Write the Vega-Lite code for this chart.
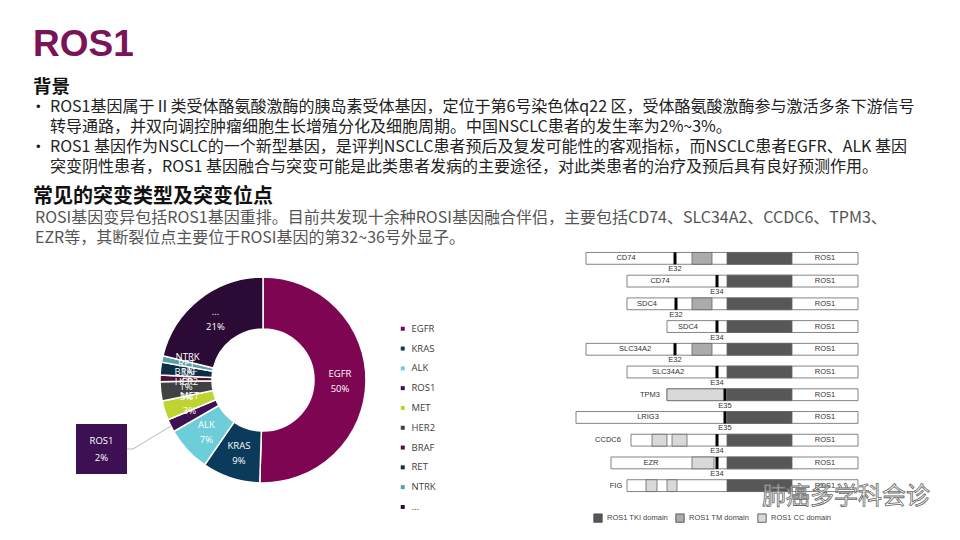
{
  "$schema": "https://vega.github.io/schema/vega-lite/v6.json",
  "background": "white",
  "padding": {"left": 33, "top": 26, "right": 5, "bottom": 0},
  "title": {"text": "ROS1", "anchor": "start", "fontSize": 37, "font": "Liberation Sans", "fontWeight": "bold", "color": "#7A1357", "offset": 14},
  "config": {"view": {"stroke": null}},
  "datasets": {
    "bg": [
      {"line": 0, "kind": "head", "text": "背景"},
      {"line": 1, "kind": "bullet", "text": "ROS1基因属于Ⅱ类受体酪氨酸激酶的胰岛素受体基因，定位于第6号染色体q22 区，受体酪氨酸激酶参与激活多条下游信号"},
      {"line": 2, "kind": "cont", "text": "转导通路，并双向调控肿瘤细胞生长增殖分化及细胞周期。中国NSCLC患者的发生率为2%~3%。"},
      {"line": 3, "kind": "bullet", "text": "ROS1 基因作为NSCLC的一个新型基因，是评判NSCLC患者预后及复发可能性的客观指标，而NSCLC患者EGFR、ALK 基因"},
      {"line": 4, "kind": "cont", "text": "突变阴性患者，ROS1 基因融合与突变可能是此类患者发病的主要途径，对此类患者的治疗及预后具有良好预测作用。"}
    ],
    "sec": [
      {"line": 0, "kind": "head", "text": "常见的突变类型及突变位点"},
      {"line": 1, "kind": "body", "text": "ROSI基因变异包括ROS1基因重排。目前共发现十余种ROSI基因融合伴侣，主要包括CD74、SLC34A2、CCDC6、TPM3、"},
      {"line": 2, "kind": "body", "text": "EZR等，其断裂位点主要位于ROSI基因的第32~36号外显子。"}
    ],
    "mut": [
      {"idx": 1, "gene": "EGFR", "share": 0.50},
      {"idx": 2, "gene": "KRAS", "share": 0.09},
      {"idx": 3, "gene": "ALK", "share": 0.07},
      {"idx": 4, "gene": "ROS1", "share": 0.02},
      {"idx": 5, "gene": "MET", "share": 0.03},
      {"idx": 6, "gene": "HER2", "share": 0.03},
      {"idx": 7, "gene": "BRAF", "share": 0.01},
      {"idx": 8, "gene": "RET", "share": 0.02},
      {"idx": 9, "gene": "NTRK", "share": 0.01},
      {"idx": 10, "gene": "...", "share": 0.21}
    ],
    "fusions": [
      {"row": 1, "partner": "CD74", "exon": "E32", "start": 16, "bp": 105, "end": 288, "labelAt": 56},
      {"row": 2, "partner": "CD74", "exon": "E34", "start": 57, "bp": 147, "end": 288, "labelAt": 90},
      {"row": 3, "partner": "SDC4", "exon": "E32", "start": 57, "bp": 106, "end": 288, "labelAt": 77},
      {"row": 4, "partner": "SDC4", "exon": "E34", "start": 97, "bp": 147, "end": 288, "labelAt": 118},
      {"row": 5, "partner": "SLC34A2", "exon": "E32", "start": 16, "bp": 105, "end": 288, "labelAt": 65},
      {"row": 6, "partner": "SLC34A2", "exon": "E34", "start": 57, "bp": 147, "end": 288, "labelAt": 98},
      {"row": 7, "partner": "TPM3", "exon": "E35", "start": 97, "bp": 155, "end": 288, "labelAt": 80},
      {"row": 8, "partner": "LRIG3", "exon": "E35", "start": 6, "bp": 155, "end": 288, "labelAt": 78},
      {"row": 9, "partner": "CCDC6", "exon": "E34", "start": 61, "bp": 147, "end": 288, "labelAt": 38},
      {"row": 10, "partner": "EZR", "exon": "E34", "start": 41, "bp": 147, "end": 288, "labelAt": 81},
      {"row": 11, "partner": "FIG", "exon": "", "start": 57, "bp": 155, "end": 288, "labelAt": 46}
    ],
    "domains": [
      {"row": 1, "domain": "ROS1 TM domain", "from": 122, "to": 142},
      {"row": 3, "domain": "ROS1 TM domain", "from": 122, "to": 142},
      {"row": 5, "domain": "ROS1 TM domain", "from": 122, "to": 142},
      {"row": 7, "domain": "ROS1 CC domain", "from": 97, "to": 155},
      {"row": 9, "domain": "ROS1 CC domain", "from": 82, "to": 97},
      {"row": 9, "domain": "ROS1 CC domain", "from": 102, "to": 117},
      {"row": 10, "domain": "ROS1 CC domain", "from": 122, "to": 144},
      {"row": 11, "domain": "ROS1 CC domain", "from": 76, "to": 87},
      {"row": 11, "domain": "ROS1 CC domain", "from": 97, "to": 107},
      {"row": 1, "domain": "ROS1 TKI domain", "from": 157, "to": 222},
      {"row": 2, "domain": "ROS1 TKI domain", "from": 157, "to": 222},
      {"row": 3, "domain": "ROS1 TKI domain", "from": 157, "to": 222},
      {"row": 4, "domain": "ROS1 TKI domain", "from": 157, "to": 222},
      {"row": 5, "domain": "ROS1 TKI domain", "from": 157, "to": 222},
      {"row": 6, "domain": "ROS1 TKI domain", "from": 157, "to": 222},
      {"row": 7, "domain": "ROS1 TKI domain", "from": 157, "to": 222},
      {"row": 8, "domain": "ROS1 TKI domain", "from": 157, "to": 222},
      {"row": 9, "domain": "ROS1 TKI domain", "from": 157, "to": 222},
      {"row": 10, "domain": "ROS1 TKI domain", "from": 157, "to": 222},
      {"row": 11, "domain": "ROS1 TKI domain", "from": 157, "to": 222}
    ]
  },
  "bounds": "flush",
  "spacing": 9,
  "vconcat": [
    {
      "width": 900,
      "height": 101,
      "data": {"name": "bg"},
      "encoding": {"y": {"field": "line", "type": "ordinal", "scale": {"type": "point", "padding": 0, "range": [0, 80]}, "axis": null}},
      "layer": [
        {"transform": [{"filter": "datum.kind === 'head'"}], "mark": {"type": "text", "x": 0, "align": "left", "baseline": "middle", "fontSize": 18.5, "fontWeight": "bold", "font": "Noto Sans CJK SC", "fill": "#111111"}, "encoding": {"text": {"field": "text"}}},
        {"transform": [{"filter": "datum.kind !== 'head'"}], "mark": {"type": "text", "x": 0, "dx": 17, "align": "left", "baseline": "middle", "fontSize": 16, "font": "Noto Sans CJK SC", "fill": "#222222"}, "encoding": {"text": {"field": "text"}}},
        {"transform": [{"filter": "datum.kind === 'bullet'"}], "mark": {"type": "text", "x": 0, "dx": 3, "align": "left", "baseline": "middle", "fontSize": 13, "font": "Liberation Sans", "fill": "#222222", "text": "•"}, "encoding": {}}
      ]
    },
    {
      "width": 900,
      "height": 41,
      "data": {"name": "sec"},
      "encoding": {"y": {"field": "line", "type": "ordinal", "scale": {"type": "point", "padding": 0}, "axis": null}},
      "layer": [
        {"transform": [{"filter": "datum.kind === 'head'"}], "mark": {"type": "text", "x": 0, "align": "left", "baseline": "middle", "fontSize": 20, "fontWeight": "bold", "font": "Noto Sans CJK SC", "fill": "#111111"}, "encoding": {"text": {"field": "text"}}},
        {"transform": [{"filter": "datum.kind !== 'head'"}], "mark": {"type": "text", "x": 0, "dx": 2, "align": "left", "baseline": "middle", "fontSize": 16, "font": "Noto Sans CJK SC", "fill": "#555555"}, "encoding": {"text": {"field": "text"}}}
      ]
    },
    {
      "bounds": "flush",
      "spacing": 0,
      "resolve": {"scale": {"color": "independent", "x": "independent", "y": "independent"}, "legend": {"color": "independent"}},
      "hconcat": [
        {
          "width": 537,
          "height": 280,
          "data": {"name": "mut"},
          "encoding": {
            "x": {"datum": 0, "type": "quantitative", "scale": {"domain": [-230, 307], "nice": false, "zero": false}, "axis": null},
            "y": {"datum": 0, "type": "quantitative", "scale": {"domain": [-147, 133], "nice": false, "zero": false}, "axis": null}
          },
          "layer": [
            {
              "mark": {"type": "arc", "innerRadius": 51, "outerRadius": 103, "stroke": "white", "strokeWidth": 1.5},
              "encoding": {
                "theta": {"field": "share", "type": "quantitative", "stack": true},
                "order": {"field": "idx", "type": "quantitative"},
                "color": {
                  "field": "gene", "type": "nominal",
                  "scale": {"domain": ["EGFR", "KRAS", "ALK", "ROS1", "MET", "HER2", "BRAF", "RET", "NTRK", "..."],
                            "range": ["#7D0552", "#0C3A5B", "#6DCDD9", "#3C1053", "#BFD430", "#404142", "#520F35", "#0F2D45", "#5B9FA6", "#2B0B35"]},
                  "legend": {"orient": "none", "legendX": 365, "legendY": 77, "title": null, "symbolType": "square", "symbolSize": 16, "symbolStrokeWidth": 0, "labelFontSize": 9.5, "labelFont": "Open Sans", "labelColor": "#404040", "rowPadding": 8.8, "labelOffset": 4}
                }
              }
            },
            {
              "mark": {"type": "text", "radius": 77, "dy": -7, "fill": "white", "fontSize": 9.5, "font": "Open Sans"},
              "encoding": {
                "theta": {"field": "share", "type": "quantitative", "stack": true},
                "order": {"field": "idx", "type": "quantitative"},
                "detail": {"field": "gene", "type": "nominal"},
                "text": {"condition": {"test": "datum.gene === 'ROS1'", "value": ""}, "field": "gene", "type": "nominal"}
              }
            },
            {
              "mark": {"type": "text", "radius": 77, "dy": 8, "fill": "white", "fontSize": 9.5, "font": "Open Sans"},
              "encoding": {
                "theta": {"field": "share", "type": "quantitative", "stack": true},
                "order": {"field": "idx", "type": "quantitative"},
                "detail": {"field": "gene", "type": "nominal"},
                "text": {"condition": {"test": "datum.gene === 'ROS1'", "value": ""}, "field": "share", "type": "quantitative", "format": ".0%"}
              }
            },
            {
              "transform": [{"filter": "datum.gene === 'ROS1'"}],
              "mark": {"type": "rect", "fill": "#3C1053"},
              "encoding": {"x": {"datum": -187}, "x2": {"datum": -136}, "y": {"datum": -94}, "y2": {"datum": -44}}
            },
            {
              "transform": [{"filter": "datum.gene === 'ROS1'"}],
              "mark": {"type": "rule", "stroke": "#A6A6A6", "strokeWidth": 0.8},
              "encoding": {"x": {"datum": -136}, "y": {"datum": -69}, "x2": {"datum": -130}, "y2": {"datum": -69}}
            },
            {
              "transform": [{"filter": "datum.gene === 'ROS1'"}],
              "mark": {"type": "rule", "stroke": "#A6A6A6", "strokeWidth": 0.8},
              "encoding": {"x": {"datum": -130}, "y": {"datum": -69}, "x2": {"datum": -92}, "y2": {"datum": -46}}
            },
            {
              "transform": [{"filter": "datum.gene === 'ROS1'"}],
              "mark": {"type": "text", "fill": "white", "fontSize": 9.5, "font": "Open Sans"},
              "encoding": {"x": {"datum": -161.5}, "y": {"datum": -61}, "text": {"field": "gene"}}
            },
            {
              "transform": [{"filter": "datum.gene === 'ROS1'"}],
              "mark": {"type": "text", "fill": "white", "fontSize": 9.5, "font": "Open Sans"},
              "encoding": {"x": {"datum": -161.5}, "y": {"datum": -78}, "text": {"field": "share", "type": "quantitative", "format": ".0%"}}
            }
          ]
        },
        {
          "width": 300,
          "height": 250,
          "layer": [
            {
              "data": {"name": "fusions"},
              "mark": {"type": "rect", "fill": "white", "stroke": "#666666", "strokeWidth": 0.8},
              "encoding": {
                "x": {"field": "start", "type": "quantitative", "scale": {"domain": [0, 300], "nice": false, "zero": false}, "axis": null},
                "x2": {"field": "end"},
                "y": {"field": "row", "type": "ordinal", "scale": {"paddingInner": 0.48, "paddingOuter": 0.24}, "axis": null}
              }
            },
            {
              "data": {"name": "domains"},
              "mark": {"type": "rect", "stroke": "#666666", "strokeWidth": 0.8},
              "encoding": {
                "x": {"field": "from", "type": "quantitative"},
                "x2": {"field": "to"},
                "y": {"field": "row", "type": "ordinal"},
                "color": {
                  "field": "domain", "type": "nominal",
                  "scale": {"domain": ["ROS1 TKI domain", "ROS1 TM domain", "ROS1 CC domain"], "range": ["#575757", "#ABABAB", "#D9D9D9"]},
                  "legend": {"orient": "none", "legendX": 23, "legendY": 266, "direction": "horizontal", "columns": 3, "title": null, "symbolType": "square", "symbolSize": 70, "symbolStrokeColor": "#444444", "symbolStrokeWidth": 0.8, "labelFontSize": 7.5, "labelFont": "Liberation Sans", "labelColor": "#444444", "columnPadding": 6, "labelOffset": 4}
                }
              }
            },
            {
              "data": {"name": "fusions"},
              "transform": [{"filter": "datum.exon !== ''"}],
              "mark": {"type": "tick", "color": "#000000", "thickness": 3, "size": 12, "opacity": 1},
              "encoding": {"x": {"field": "bp", "type": "quantitative"}, "y": {"field": "row", "type": "ordinal"}}
            },
            {
              "data": {"name": "fusions"},
              "mark": {"type": "text", "fontSize": 7.5, "font": "Liberation Sans", "fill": "#333333"},
              "encoding": {"x": {"field": "labelAt", "type": "quantitative"}, "y": {"field": "row", "type": "ordinal"}, "text": {"field": "partner"}}
            },
            {
              "data": {"name": "fusions"},
              "mark": {"type": "text", "fontSize": 7.5, "font": "Liberation Sans", "fill": "#333333", "dy": 11},
              "encoding": {"x": {"field": "bp", "type": "quantitative"}, "y": {"field": "row", "type": "ordinal"}, "text": {"field": "exon"}}
            },
            {
              "data": {"name": "fusions"},
              "mark": {"type": "text", "fontSize": 7.5, "font": "Liberation Sans", "fill": "#333333"},
              "encoding": {"x": {"datum": 255}, "y": {"field": "row", "type": "ordinal"}, "text": {"value": "ROS1"}}
            },
            {
              "data": {"name": "fusions"},
              "transform": [{"filter": "datum.row === 11"}],
              "mark": {"type": "text", "align": "left", "dy": 11, "fontSize": 24, "font": "Noto Sans CJK SC", "fill": "white", "fillOpacity": 0.6, "stroke": "#6A6A6A", "strokeWidth": 0.8},
              "encoding": {"x": {"datum": 192}, "y": {"field": "row", "type": "ordinal"}, "text": {"value": "肺癌多学科会诊"}}
            }
          ]
        }
      ]
    }
  ]
}
